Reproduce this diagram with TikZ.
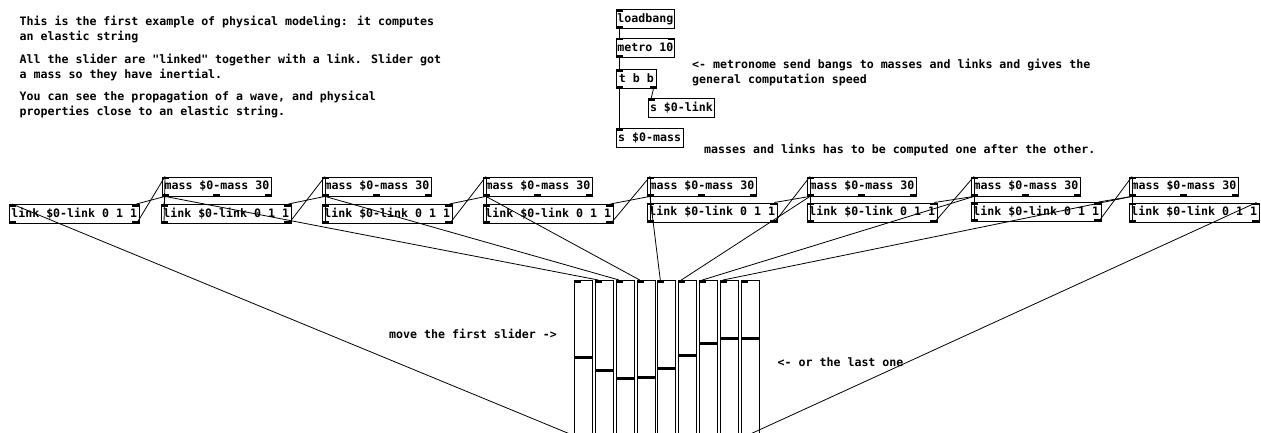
\documentclass[tikz,border=0pt]{standalone}
\usepackage{fontspec}
\newfontfamily\pdfont{DejaVu Sans Mono}
\tikzset{
  pdtext/.style={font=\pdfont\bfseries\fontsize{11.6}{14}\selectfont},
  obj/.style={pdtext, draw, line width=0.9pt, anchor=north west, inner xsep=0pt, inner ysep=0pt, minimum height=19pt, text height=9pt, text depth=2pt},
  cmt/.style={pdtext, anchor=base west, inner sep=0pt},
  wire/.style={line width=0.8pt},
  slider/.style={draw, line width=0.9pt, fill=white, anchor=north west, inner sep=0pt, minimum width=18pt, minimum height=156pt},
}
\newcommand\pdTL[1]{\fill (#1.north west) rectangle ++(7,2.5);}
\newcommand\pdTR[1]{\fill (#1.north east) rectangle ++(-7,2.5);}
\newcommand\pdBL[1]{\fill (#1.south west) rectangle ++(7,-2.5);}
\newcommand\pdBR[1]{\fill (#1.south east) rectangle ++(-7,-2.5);}
\newcommand\pdBM[1]{\fill ([xshift=-3.5pt]#1.south) rectangle ++(7,-2.5);}
\begin{document}
\begin{tikzpicture}[x=1pt,y=-1pt]
\useasboundingbox (0,0) rectangle (1261,432);
\clip (0,0) rectangle (1261,432);

% comments
\node[cmt] (c1) at (19.5,25) {This is the first example of physical modeling: it computes};
\node[cmt] (c2) at (19.5,40) {an elastic string};
\node[cmt] (c3) at (19.5,63.5) {All the slider are "linked" together with a link. Slider got};
\node[cmt] (c4) at (19.5,78.5) {a mass so they have inertial.};
\node[cmt] (c5) at (19.5,100.5) {You can see the propagation of a wave, and physical};
\node[cmt] (c6) at (19.5,115.5) {properties close to an elastic string.};
\node[cmt] (c7) at (692,68) {<- metronome send bangs to masses and links and gives the};
\node[cmt] (c8) at (692,83) {general computation speed};
\node[cmt] (c9) at (704,153) {masses and links has to be computed one after the other.};
\node[cmt] (c10) at (389,338.5) {move the first slider ->};
\node[cmt] (c11) at (777.5,366.5) {<- or the last one};

% top objects
\node[obj, minimum width=58.3pt] (lb) at (615.7,9) {loadbang};
\node[obj, minimum width=58.3pt] (mt) at (615.7,37.7) {metro 10};
\node[obj, minimum width=40.3pt] (tbb) at (615.7,69) {t b b};
\node[obj, minimum width=66.6pt] (sl) at (647.7,98.3) {s \$0-link};
\node[obj, minimum width=67pt] (sm) at (615.7,128.3) {s \$0-mass};
\pdTL{lb}\pdBL{lb}
\pdTL{mt}\pdTR{mt}\pdBL{mt}
\pdTL{tbb}\pdBL{tbb}\pdBR{tbb}
\pdTL{sl}\pdTL{sm}
\draw[wire] ([xshift=3.5pt]lb.south west) -- ([xshift=3.5pt]mt.north west);
\draw[wire] ([xshift=3.5pt]mt.south west) -- ([xshift=3.5pt]tbb.north west);
\draw[wire] ([xshift=3.5pt]tbb.south west) -- ([xshift=3.5pt]sm.north west);
\draw[wire] ([xshift=-3.5pt]tbb.south east) -- ([xshift=3.5pt]sl.north west);

% masses
\foreach \i/\x in {1/162,2/322,3/483,4/647,5/807,6/971,7/1129}{
  \node[obj, minimum width=109pt] (m\i) at (\x,176.5) {mass \$0-mass 30};
  \pdTL{m\i}\pdBL{m\i}\pdBM{m\i}\pdBR{m\i}
}
% links
\foreach \i/\x/\y in {1/9/204,2/161/204,3/322/204,4/483/204,5/647/202.5,6/807/202.5,7/971/202,8/1129/202.5}{
  \node[obj, minimum width=129.5pt] (l\i) at (\x,\y) {link \$0-link 0 1 1};
  \pdTL{l\i}\pdTR{l\i}\pdBL{l\i}\pdBR{l\i}
}
% sliders
\foreach \i/\x/\h in {1/574/357.7,2/595.3/370,3/616/378.3,4/636.7/377.3,5/657.3/368.3,6/678.3/355.7,7/699.3/343.7,8/720/338,9/741/338}{
  \node[slider] (s\i) at (\x,280) {};
  \pdTL{s\i}
  \draw[line width=3pt] ([yshift=-\h+280]s\i.north west) -- ([yshift=-\h+280]s\i.north east);
}

% wires: mass <-> links, mass -> slider
\foreach \i [evaluate=\i as \j using int(\i+1)] in {1,...,7}{
  \draw[wire] ([xshift=3pt]m\i.south west) -- ([xshift=-3pt]l\i.north east);
  \draw[wire] ([xshift=-3pt]l\i.south east) -- ([xshift=3pt]m\i.north west);
  \draw[wire] ([xshift=3pt]m\i.south west) -- ([xshift=3pt]l\j.north west);
  \draw[wire] ([xshift=3pt]l\j.south west) -- ([xshift=3pt]m\i.north west);
  \draw[wire] ([xshift=3pt]m\i.south west) -- ([xshift=3pt]s\j.north west);
}
\draw[wire] ([xshift=3pt]s1.south west) -- ([xshift=3pt]l1.north west);
\draw[wire] ([xshift=3pt]s9.south west) -- ([xshift=-3pt]l8.north east);
\end{tikzpicture}
\end{document}
